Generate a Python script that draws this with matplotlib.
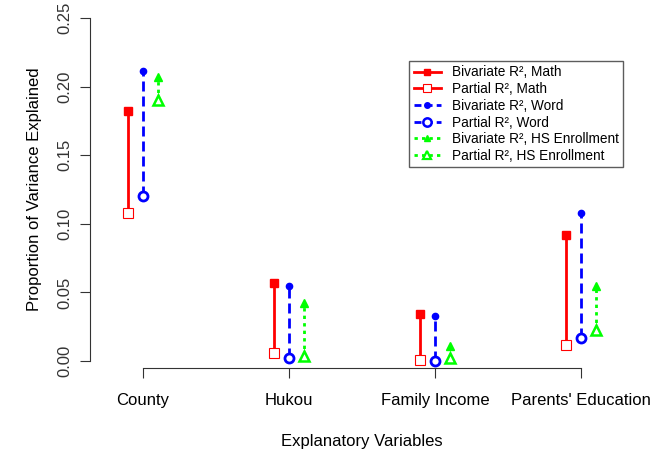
import matplotlib
matplotlib.use("Agg")
import matplotlib.pyplot as plt
from matplotlib.lines import Line2D
import numpy as np

plt.rcParams['font.family'] = ['Liberation Sans', 'DejaVu Sans']

# ------------- data
categories = ["County", "Hukou", "Family Income", "Parents' Education"]
math_biv = [0.182, 0.057, 0.034, 0.092]
math_par = [0.108, 0.006, 0.001, 0.012]
word_biv = [0.211, 0.055, 0.033, 0.108]
word_par = [0.120, 0.002, 0.000, 0.017]
hs_biv = [0.207, 0.042, 0.011, 0.055]
hs_par = [0.190, 0.004, 0.002, 0.023]
legend_labels = [
    "Bivariate R², Math",
    "Partial R², Math",
    "Bivariate R², Word",
    "Partial R², Word",
    "Bivariate R², HS Enrollment",
    "Partial R², HS Enrollment",
]

red, blue, green = "#FF0000", "#0000FF", "#00FF00"
dash_blue = (0, (3.6, 1.8))
dot_green = (0, (1.2, 1.5))

fig = plt.figure(figsize=(6.53, 4.54), dpi=100)
ax = fig.add_axes([90 / 653, 1 - 368 / 454, (634 - 90) / 653, (368 - 11) / 454])

x = np.arange(1, 5)
dx = 0.1

series = [
    (x - dx, math_biv, math_par, red, "-", "s", 6.0, 6.5, 0.8),
    (x, word_biv, word_par, blue, dash_blue, "o", 4.5, 6.5, 2.0),
    (x + dx, hs_biv, hs_par, green, dot_green, "^", 6.0, 7.5, 1.8),
]

for xs, biv, par, col, ls, mk, msb, msp, mew in series:
    for xi, b, p in zip(xs, biv, par):
        ax.plot([xi, xi], [p, b], color=col, linestyle=ls, linewidth=2.0, zorder=2)
    ax.plot(xs, biv, linestyle="none", marker=mk, markersize=msb, color=col, zorder=3)
    ax.plot(xs, par, linestyle="none", marker=mk, markersize=msp, markerfacecolor="white",
            markeredgecolor=col, markeredgewidth=mew, zorder=3)

ax.set_xlim(0.637, 4.363)
ax.set_ylim(-0.005, 0.255)
ax.set_xticks(x)
ax.set_xticklabels(categories, fontsize=12)
ax.set_yticks([0.0, 0.05, 0.10, 0.15, 0.20, 0.25])
ax.set_yticklabels(["0.00", "0.05", "0.10", "0.15", "0.20", "0.25"], rotation=90,
                   va="center", fontsize=12)
ax.spines["top"].set_visible(False)
ax.spines["right"].set_visible(False)
ax.spines["left"].set_bounds(0, 0.25)
ax.spines["bottom"].set_bounds(1, 4)
ax.spines["left"].set_color("#333333")
ax.spines["bottom"].set_color("#333333")
ax.tick_params(axis="y", length=7, pad=6, color="#333333", labelcolor="#333333")
ax.tick_params(axis="x", length=7, pad=11, color="#333333")

ax.set_xlabel("Explanatory Variables", fontsize=12, labelpad=19)
ax.set_ylabel("Proportion of Variance Explained", fontsize=12, labelpad=11)

handles = [
    Line2D([], [], color=red, lw=2, marker="s", markersize=5),
    Line2D([], [], color=red, lw=2, marker="s", markersize=6, markerfacecolor="white", markeredgewidth=0.8),
    Line2D([], [], color=blue, lw=2, linestyle=(0, (2.5, 1.5)), marker="o", markersize=4),
    Line2D([], [], color=blue, lw=2, linestyle=(0, (2.5, 1.5)), marker="o", markersize=6,
           markerfacecolor="white", markeredgewidth=1.8),
    Line2D([], [], color=green, lw=2, linestyle=dot_green, marker="^", markersize=5),
    Line2D([], [], color=green, lw=2, linestyle=dot_green, marker="^", markersize=6,
           markerfacecolor="white", markeredgewidth=1.6),
]
leg = fig.legend(handles, legend_labels, loc="upper right", bbox_to_anchor=(623 / 653, 1 - 61 / 454),
                 fontsize=9.8, frameon=True, fancybox=False, handlelength=2.0,
                 handletextpad=0.8, labelspacing=0.2, borderpad=0.32, borderaxespad=0)
leg.get_frame().set_edgecolor("#333333")
leg.get_frame().set_linewidth(1.0)

fig.savefig("out.png", dpi=100)
